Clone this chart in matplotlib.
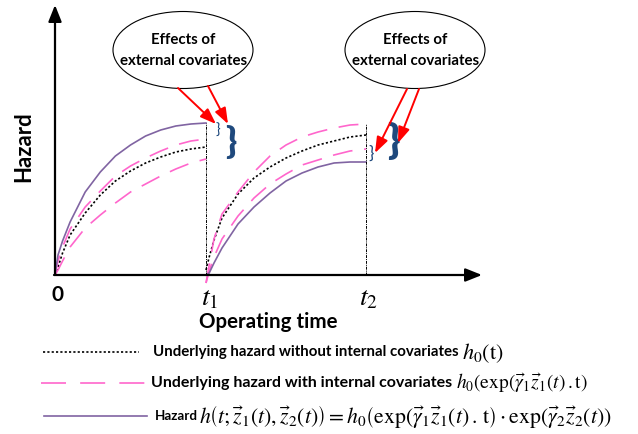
import numpy as np
import matplotlib
matplotlib.use('Agg')
import matplotlib.pyplot as plt
from matplotlib.patches import Ellipse

# time in units of the first operating interval, hazard in arbitrary units
T1 = 1.0
T2 = 2.06
s_frac = [0, 0.02, 0.05, 0.1, 0.2, 0.3, 0.4, 0.5, 0.6, 0.7, 0.8, 0.9, 1.0]

# first interval 0 -> t1
h0_seg1 = [0, 8, 22, 40, 62, 80, 94, 104, 112, 118, 123, 126, 128]
hi_seg1 = [0, 14, 28, 46, 68, 84, 99, 109, 117, 124, 130, 134, 136]
lo_seg1 = [0, 5, 14, 28, 47, 60, 72, 83, 91, 99, 106, 112, 116]
hz_seg1 = [0, 20, 34, 53, 83, 103, 119, 130, 139, 145, 149, 151, 152]

# second interval t1 -> t2
h0_seg2 = [5, 18, 35, 57, 81, 97, 108, 117, 124, 130, 134, 138, 140]
hi_seg2 = [-8, 10, 36, 61, 83, 103, 119, 130, 138, 143, 147, 150, 151]
lo_seg2 = [-8, 4, 18, 36, 59, 77, 91, 101, 110, 115, 120, 124, 126]
hz_seg2 = [0, 2, 12, 27, 51, 68, 82, 94, 102, 108, 112, 113, 113]

tick_labels = ['0', '$t_1$', '$t_2$']
legend_text = ['Underlying hazard without internal covariates',
               'Underlying hazard with internal covariates',
               'Hazard']
legend_math = [r'$h_0\left(\mathrm{t}\right)$',
               r'$h_0\left(\exp(\vec{\gamma}_1\vec{z}_1(t)\,.\mathrm{t}\right)$',
               r'$h\left(t;\vec{z}_1(t),\vec{z}_2(t)\right)=h_0\left(\exp(\vec{\gamma}_1\vec{z}_1(t)\,.\,\mathrm{t}\right)\cdot\exp(\vec{\gamma}_2\vec{z}_2(t))$']

plt.rcParams['mathtext.fontset'] = 'stix'
FONT = 'Lato'
PURPLE = '#8064a2'
PINK = '#ff66cc'
BLUE = '#1f497d'

# pixel -> data helpers for the layout
def X(px):
    return (px - 55) / 151.0

def Y(py):
    return 275 - py

fig = plt.figure(figsize=(6.38, 4.34), dpi=100)
ax = fig.add_axes([0, 0, 1, 1])
ax.set_xlim(X(0), X(638))
ax.set_ylim(Y(434), Y(0))
ax.axis('off')

s = np.array(s_frac)
t_seg1 = T1 * s
t_seg2 = T1 + (T2 - T1) * s

dot_kw = dict(color='k', lw=1.2, dashes=(1.3, 1.3))
dash_kw = dict(color=PINK, lw=1.2, dashes=(12, 7))
solid_kw = dict(color=PURPLE, lw=1.2)

for t, h0, hi, lo, hz in [(t_seg1, h0_seg1, hi_seg1, lo_seg1, hz_seg1),
                          (t_seg2, h0_seg2, hi_seg2, lo_seg2, hz_seg2)]:
    ax.plot(t, h0, **dot_kw)
    ax.plot(t, hi, **dash_kw)
    ax.plot(t, lo, **dash_kw)
    ax.plot(t, hz, **solid_kw)

# vertical markers at t1, t2
ax.plot([T1, T1], [0, hz_seg1[-1]], color='k', lw=0.7, ls=(0, (3, 1, 1, 1)))
ax.plot([T2, T2], [0, hi_seg2[-1]], color='k', lw=0.7, ls=(0, (3, 1, 1, 1)))

# axes with arrows
arr = dict(arrowstyle='-|>,head_length=0.5,head_width=0.2', color='k', lw=1.6,
           mutation_scale=20, shrinkA=0, shrinkB=0)
ax.annotate('', xy=(X(482), 0), xytext=(X(54), 0), arrowprops=arr)
ax.annotate('', xy=(0, Y(5)), xytext=(0, 1), arrowprops=arr)

# tick labels
ax.text(X(58), Y(295), tick_labels[0], family=FONT, fontweight='bold', fontsize=15,
        ha='center', va='center')
ax.text(T1 + X(210) - X(206), Y(297), tick_labels[1], fontsize=20, ha='center', va='center')
ax.text(T2 + X(368) - X(366), Y(297), tick_labels[2], fontsize=20, ha='center', va='center')
ax.text(X(268), Y(322), 'Operating time', family=FONT, fontweight='bold', fontsize=14.8,
        ha='center', va='center')
ax.text(X(24), Y(147), 'Hazard', family=FONT, fontweight='bold', fontsize=16,
        ha='center', va='center', rotation=90)

# callout ellipses
for cx in [183, 415]:
    ax.add_patch(Ellipse((X(cx), Y(50)), 140 / 151.0, 77, fill=False, ec='k', lw=0.8))
    ax.text(X(cx), Y(40), 'Effects of', family=FONT, fontweight='bold', fontsize=10.8,
            ha='center', va='center')
    ax.text(X(cx + 1), Y(61), 'external covariates', family=FONT, fontweight='bold',
            fontsize=10.8, ha='center', va='center')

# braces
ax.text(X(218), Y(131), '}', color=BLUE, fontsize=11, ha='center', va='center', family=FONT)
ax.text(X(231), Y(142), '}', color=BLUE, fontsize=26, fontweight='heavy', ha='center',
        va='center', family=FONT)
ax.text(X(371), Y(154), '}', color=BLUE, fontsize=13, ha='center', va='center', family=FONT)
ax.text(X(393), Y(141), '}', color=BLUE, fontsize=29, fontweight='heavy', ha='center',
        va='center', family=FONT)

# red arrows
red = dict(arrowstyle='-|>,head_length=0.6,head_width=0.22', color='red', lw=1.4,
           mutation_scale=16, shrinkA=0, shrinkB=0)
for (x0, y0), (x1, y1) in [((178, 88), (216, 124)), ((208, 86), (228, 124)),
                           ((407, 89), (375, 153)), ((419, 89), (398, 143))]:
    ax.annotate('', xy=(X(x1), Y(y1)), xytext=(X(x0), Y(y0)), arrowprops=red)

# legend
rows_y = [352, 383, 416]
line_x = [(43, 139), (41, 145), (44, 147)]
text_x = [153, 151, 155]
text_size = [10.8, 11.5, 9.6]
math_size = [16, 14, 15.7]
math_gap = [2.5, 2.5, 1.0]
styles = [dot_kw, dict(dash_kw, dashes=(15, 8.5)), solid_kw]
for i in range(3):
    ax.plot([X(line_x[i][0]), X(line_x[i][1])], [Y(rows_y[i])] * 2, **styles[i])
    txt = ax.text(X(text_x[i]), Y(rows_y[i]), legend_text[i], family=FONT,
                  fontweight='bold', fontsize=text_size[i], ha='left', va='center')
    ax.annotate(legend_math[i], xy=(1, 0.5), xycoords=txt, xytext=(math_gap[i], -0.5),
                textcoords='offset points', fontsize=math_size[i], ha='left', va='center')

fig.savefig('out.png', dpi=100)
